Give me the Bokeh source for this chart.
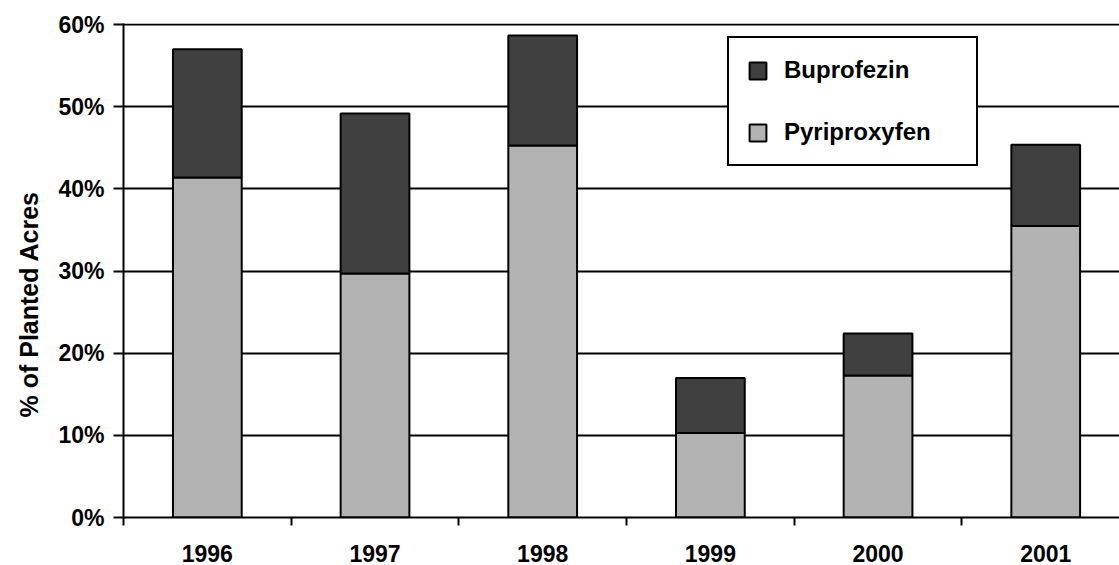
import math
from bokeh.plotting import figure
from bokeh.models import (ColumnDataSource, Range1d, FixedTicker, Legend, LegendItem, Title)
from bokeh.embed import file_html
from bokeh.resources import INLINE

years = ["1996", "1997", "1998", "1999", "2000", "2001"]
pyriproxyfen = [41.4, 29.7, 45.3, 10.3, 17.3, 35.5]
buprofezin_total = [57.0, 49.2, 58.7, 17.0, 22.4, 45.4]
buprofezin = [round(t - p, 2) for t, p in zip(buprofezin_total, pyriproxyfen)]
y_ticks = [0, 10, 20, 30, 40, 50, 60]
y_labels = ["0%", "10%", "20%", "30%", "40%", "50%", "60%"]

FONT = "Liberation Sans"
DARK = "#404040"
LIGHT = "#b3b3b3"

xpos = [i + 0.5 for i in range(len(years))]
source = ColumnDataSource(dict(x=xpos, Pyriproxyfen=pyriproxyfen, Buprofezin=buprofezin))

p = figure(width=1119, height=565, output_backend="svg", toolbar_location=None,
           x_range=Range1d(0, 5.94), y_range=Range1d(0, 60.15),
           min_border_left=123, min_border_right=0, min_border_top=23, min_border_bottom=48)
p.outline_line_color = None
p.background_fill_color = "white"

# grid
p.xgrid.grid_line_color = None
p.ygrid.ticker = FixedTicker(ticks=y_ticks)
p.ygrid.grid_line_color = "black"
p.ygrid.grid_line_width = 2

rs = p.vbar_stack(["Pyriproxyfen", "Buprofezin"], x="x", width=0.41, source=source,
                  color=[LIGHT, DARK], line_color="black", line_width=2)

# y axis
ya = p.yaxis[0]
ya.ticker = FixedTicker(ticks=y_ticks, minor_ticks=[])
ya.major_label_overrides = {t: l for t, l in zip(y_ticks, y_labels)}
ya.major_tick_out = 10
ya.major_tick_in = 0
ya.major_tick_line_width = 2
ya.minor_tick_line_color = None
ya.axis_line_width = 2
ya.axis_line_color = "black"
ya.major_label_standoff = 9
ya.major_label_text_font = FONT
ya.major_label_text_font_style = "bold"
ya.major_label_text_font_size = "23px"
ya.major_label_text_color = "black"

# x axis
xa = p.xaxis[0]
xa.ticker = FixedTicker(ticks=xpos, minor_ticks=[0, 1, 2, 3, 4, 5, 6])
xa.major_label_overrides = {x: y for x, y in zip(xpos, years)}
xa.major_tick_line_color = None
xa.major_tick_out = 0
xa.major_tick_in = 0
xa.minor_tick_out = 8
xa.minor_tick_in = 0
xa.minor_tick_line_width = 2
xa.minor_tick_line_color = "black"
xa.axis_line_width = 2
xa.axis_line_color = "black"
xa.major_label_standoff = 19
xa.major_label_text_font = FONT
xa.major_label_text_font_style = "bold"
xa.major_label_text_font_size = "23px"
xa.major_label_text_color = "black"

# y axis title
ytitle = Title(text="% of Planted Acres", align="left", offset=100, standoff=25,
               text_font=FONT, text_font_style="bold", text_font_size="25px",
               text_color="black")
p.add_layout(ytitle, "left")

legend = Legend(items=[LegendItem(label="Buprofezin", renderers=[rs[1]]),
                       LegendItem(label="Pyriproxyfen", renderers=[rs[0]])],
                location=(604, 351), orientation="vertical",
                border_line_color="black", border_line_width=2, border_line_alpha=1.0,
                background_fill_color="white", background_fill_alpha=1.0,
                padding=18, spacing=34, margin=0,
                glyph_width=21, glyph_height=21, label_height=21, label_width=174,
                label_standoff=16,
                label_text_font=FONT, label_text_font_style="bold",
                label_text_font_size="24px", label_text_color="black")
p.add_layout(legend)

open("out.html", "w").write(file_html(p, INLINE))
